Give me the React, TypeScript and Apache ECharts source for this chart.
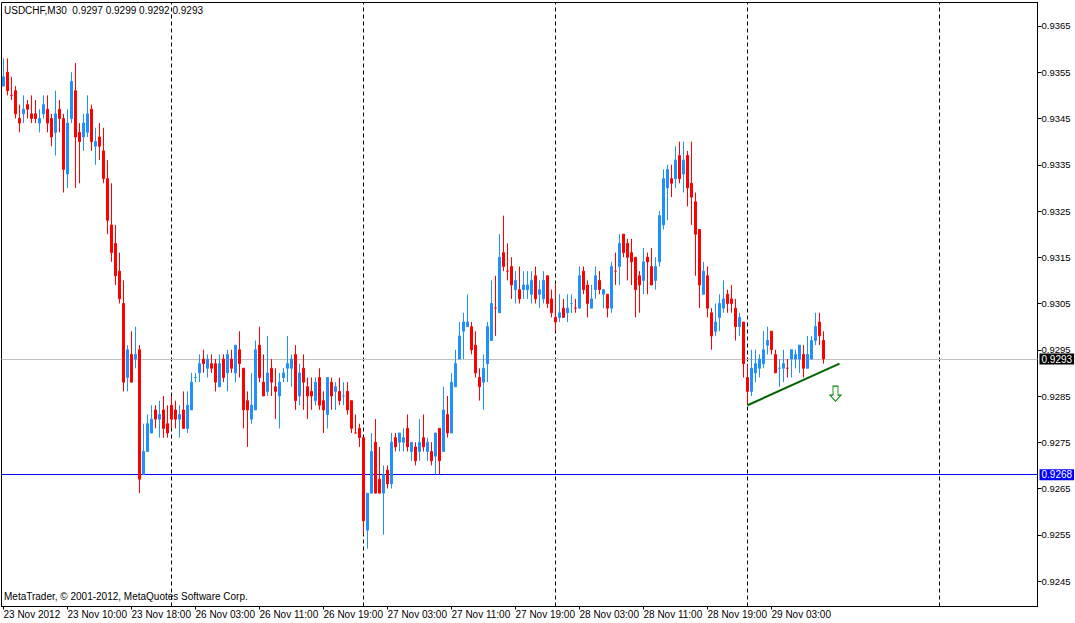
import React, { useEffect, useRef } from 'react';
import * as echarts from 'echarts';

const FONT = '"Liberation Sans", Arial, sans-serif';

const headerText = 'USDCHF,M30 \u00a00.9297 0.9299 0.9292 0.9293';
const copyrightText = 'MetaTrader, \u00a9 2001-2012, MetaQuotes Software Corp.';

// Bars as [open, high, low, close]
const nov23: number[][] = [
  [0.9352, 0.9358, 0.9352, 0.9354], [0.9355, 0.9358, 0.9350, 0.9351], [0.9350, 0.9354, 0.9349, 0.9350],
  [0.9351, 0.9352, 0.9345, 0.9346], [0.9345, 0.9348, 0.9342, 0.9344], [0.9346, 0.9350, 0.9344, 0.9347],
  [0.9348, 0.9349, 0.9345, 0.9347], [0.9346, 0.9350, 0.9344, 0.9345], [0.9346, 0.9349, 0.9344, 0.9345],
  [0.9344, 0.9347, 0.9342, 0.9345], [0.9346, 0.9350, 0.9345, 0.9348], [0.9347, 0.9350, 0.9342, 0.9344],
  [0.9345, 0.9346, 0.9339, 0.9341], [0.9342, 0.9351, 0.9337, 0.9346], [0.9347, 0.9349, 0.9342, 0.9345],
  [0.9345, 0.9346, 0.9329, 0.9334], [0.9333, 0.9347, 0.9330, 0.9344], [0.9345, 0.9355, 0.9344, 0.9353],
  [0.9351, 0.9357, 0.9330, 0.9341], [0.9342, 0.9344, 0.9331, 0.9340], [0.9341, 0.9346, 0.9338, 0.9344],
  [0.9342, 0.9350, 0.9341, 0.9346], [0.9347, 0.9348, 0.9338, 0.9340], [0.9339, 0.9343, 0.9335, 0.9340],
  [0.9341, 0.9344, 0.9336, 0.9339], [0.9338, 0.9343, 0.9331, 0.9332], [0.9332, 0.9336, 0.9320, 0.9323],
  [0.9322, 0.9331, 0.9314, 0.9316], [0.9318, 0.9322, 0.9309, 0.9311], [0.9312, 0.9316, 0.9305, 0.9306],
  [0.9305, 0.9310, 0.9286, 0.9288], [0.9289, 0.9296, 0.9286, 0.9295], [0.9294, 0.9299, 0.9288, 0.9288],
  [0.9293, 0.9300, 0.9291, 0.9294], [0.9295, 0.9296, 0.9264, 0.9267], [0.9268, 0.9279, 0.9268, 0.9273],
  [0.9273, 0.9281, 0.9273, 0.9279], [0.9277, 0.9283, 0.9277, 0.9280], [0.9282, 0.9283, 0.9278, 0.9280],
  [0.9280, 0.9284, 0.9276, 0.9281], [0.9282, 0.9285, 0.9276, 0.9278], [0.9279, 0.9283, 0.9276, 0.9277],
];

const nov26: number[][] = [
  [0.9283, 0.9285, 0.9278, 0.9280], [0.9282, 0.9284, 0.9278, 0.9280], [0.9280, 0.9283, 0.9276, 0.9281],
  [0.9282, 0.9286, 0.9278, 0.9278], [0.9278, 0.9286, 0.9277, 0.9283], [0.9282, 0.9290, 0.9282, 0.9288],
  [0.9289, 0.9290, 0.9288, 0.9289], [0.9290, 0.9294, 0.9288, 0.9292], [0.9293, 0.9295, 0.9290, 0.9292],
  [0.9291, 0.9294, 0.9289, 0.9293], [0.9292, 0.9294, 0.9290, 0.9291], [0.9292, 0.9293, 0.9286, 0.9288],
  [0.9287, 0.9294, 0.9287, 0.9292], [0.9293, 0.9294, 0.9288, 0.9289], [0.9290, 0.9295, 0.9286, 0.9294],
  [0.9293, 0.9295, 0.9290, 0.9291], [0.9290, 0.9296, 0.9288, 0.9296], [0.9295, 0.9299, 0.9289, 0.9292],
  [0.9291, 0.9291, 0.9278, 0.9282], [0.9284, 0.9286, 0.9274, 0.9282], [0.9280, 0.9290, 0.9279, 0.9283],
  [0.9282, 0.9297, 0.9282, 0.9295], [0.9296, 0.9300, 0.9288, 0.9289], [0.9288, 0.9294, 0.9285, 0.9285],
  [0.9286, 0.9298, 0.9285, 0.9290], [0.9291, 0.9293, 0.9285, 0.9288], [0.9287, 0.9291, 0.9280, 0.9286],
  [0.9285, 0.9290, 0.9278, 0.9288], [0.9289, 0.9291, 0.9288, 0.9290], [0.9291, 0.9298, 0.9288, 0.9292],
  [0.9291, 0.9294, 0.9287, 0.9293], [0.9294, 0.9296, 0.9282, 0.9284], [0.9285, 0.9292, 0.9283, 0.9290],
  [0.9291, 0.9294, 0.9282, 0.9288], [0.9287, 0.9289, 0.9280, 0.9285], [0.9286, 0.9289, 0.9282, 0.9285],
  [0.9284, 0.9289, 0.9283, 0.9288], [0.9289, 0.9291, 0.9282, 0.9283], [0.9284, 0.9286, 0.9277, 0.9282],
  [0.9281, 0.9289, 0.9278, 0.9289], [0.9288, 0.9289, 0.9282, 0.9285], [0.9286, 0.9288, 0.9282, 0.9287],
  [0.9286, 0.9289, 0.9283, 0.9284], [0.9285, 0.9288, 0.9283, 0.9285], [0.9286, 0.9288, 0.9281, 0.9282],
  [0.9284, 0.9284, 0.9277, 0.9278], [0.9277, 0.9281, 0.9277, 0.9277], [0.9278, 0.9279, 0.9274, 0.9276],
];

const nov27: number[][] = [
  [0.9276, 0.9276, 0.9255, 0.9258], [0.9256, 0.9264, 0.9252, 0.9264], [0.9264, 0.9277, 0.9264, 0.9273],
  [0.9275, 0.9280, 0.9264, 0.9264], [0.9267, 0.9274, 0.9264, 0.9264], [0.9264, 0.9270, 0.9255, 0.9268],
  [0.9269, 0.9270, 0.9265, 0.9266], [0.9266, 0.9277, 0.9265, 0.9275], [0.9276, 0.9277, 0.9273, 0.9274],
  [0.9275, 0.9277, 0.9273, 0.9277], [0.9275, 0.9278, 0.9273, 0.9276], [0.9278, 0.9281, 0.9273, 0.9274],
  [0.9273, 0.9275, 0.9271, 0.9275], [0.9274, 0.9275, 0.9270, 0.9271], [0.9273, 0.9280, 0.9271, 0.9275],
  [0.9276, 0.9281, 0.9273, 0.9274], [0.9273, 0.9276, 0.9271, 0.9275], [0.9273, 0.9275, 0.9270, 0.9271],
  [0.9272, 0.9277, 0.9268, 0.9277], [0.9278, 0.9278, 0.9268, 0.9271], [0.9273, 0.9287, 0.9273, 0.9282],
  [0.9281, 0.9285, 0.9276, 0.9277], [0.9277, 0.9290, 0.9277, 0.9288], [0.9287, 0.9295, 0.9287, 0.9292],
  [0.9293, 0.9301, 0.9293, 0.9298], [0.9299, 0.9303, 0.9293, 0.9301], [0.9300, 0.9307, 0.9300, 0.9301],
  [0.9300, 0.9301, 0.9294, 0.9295], [0.9296, 0.9299, 0.9289, 0.9290], [0.9289, 0.9291, 0.9284, 0.9287],
  [0.9288, 0.9294, 0.9282, 0.9291], [0.9292, 0.9301, 0.9288, 0.9300], [0.9297, 0.9310, 0.9297, 0.9305],
  [0.9304, 0.9311, 0.9298, 0.9304], [0.9303, 0.9320, 0.9303, 0.9315], [0.9316, 0.9324, 0.9312, 0.9313],
  [0.9312, 0.9318, 0.9310, 0.9312], [0.9313, 0.9315, 0.9306, 0.9309], [0.9308, 0.9312, 0.9305, 0.9310],
  [0.9308, 0.9313, 0.9305, 0.9306], [0.9308, 0.9312, 0.9306, 0.9309], [0.9308, 0.9312, 0.9306, 0.9309],
  [0.9307, 0.9312, 0.9305, 0.9310], [0.9311, 0.9313, 0.9305, 0.9306], [0.9307, 0.9310, 0.9304, 0.9308],
  [0.9306, 0.9312, 0.9305, 0.9310], [0.9311, 0.9311, 0.9304, 0.9305], [0.9306, 0.9308, 0.9302, 0.9303],
];

const nov28: number[][] = [
  [0.9302, 0.9309, 0.9299, 0.9301], [0.9302, 0.9307, 0.9301, 0.9303], [0.9304, 0.9306, 0.9302, 0.9302],
  [0.9303, 0.9307, 0.9301, 0.9304], [0.9305, 0.9307, 0.9303, 0.9305], [0.9304, 0.9306, 0.9303, 0.9304],
  [0.9304, 0.9313, 0.9304, 0.9311], [0.9312, 0.9313, 0.9307, 0.9308], [0.9309, 0.9310, 0.9302, 0.9305],
  [0.9304, 0.9309, 0.9304, 0.9306], [0.9308, 0.9313, 0.9306, 0.9311], [0.9310, 0.9312, 0.9307, 0.9308],
  [0.9307, 0.9308, 0.9304, 0.9308], [0.9307, 0.9307, 0.9302, 0.9304], [0.9304, 0.9314, 0.9303, 0.9313],
  [0.9312, 0.9316, 0.9309, 0.9312], [0.9313, 0.9320, 0.9309, 0.9318], [0.9320, 0.9320, 0.9315, 0.9316],
  [0.9318, 0.9319, 0.9310, 0.9315], [0.9316, 0.9319, 0.9309, 0.9314], [0.9315, 0.9315, 0.9302, 0.9308],
  [0.9311, 0.9312, 0.9303, 0.9309], [0.9310, 0.9317, 0.9307, 0.9314], [0.9315, 0.9316, 0.9307, 0.9314],
  [0.9313, 0.9317, 0.9309, 0.9309], [0.9310, 0.9315, 0.9308, 0.9313], [0.9314, 0.9325, 0.9313, 0.9324],
  [0.9322, 0.9334, 0.9321, 0.9332], [0.9330, 0.9335, 0.9323, 0.9334], [0.9332, 0.9335, 0.9328, 0.9331],
  [0.9332, 0.9339, 0.9330, 0.9336], [0.9337, 0.9340, 0.9331, 0.9332], [0.9333, 0.9340, 0.9329, 0.9336],
  [0.9337, 0.9338, 0.9326, 0.9330], [0.9331, 0.9340, 0.9322, 0.9328], [0.9327, 0.9329, 0.9311, 0.9320],
  [0.9321, 0.9321, 0.9304, 0.9309], [0.9307, 0.9314, 0.9307, 0.9312], [0.9311, 0.9313, 0.9302, 0.9304],
  [0.9303, 0.9304, 0.9295, 0.9298], [0.9299, 0.9305, 0.9298, 0.9301], [0.9302, 0.9307, 0.9299, 0.9305],
  [0.9304, 0.9310, 0.9303, 0.9306], [0.9307, 0.9308, 0.9303, 0.9305], [0.9306, 0.9309, 0.9303, 0.9305],
  [0.9304, 0.9306, 0.9297, 0.9300], [0.9300, 0.9303, 0.9298, 0.9302], [0.9301, 0.9301, 0.9289, 0.9292],
];

const nov29: number[][] = [
  [0.9289, 0.9292, 0.9283, 0.9286], [0.9286, 0.9295, 0.9285, 0.9291], [0.9290, 0.9295, 0.9288, 0.9292],
  [0.9291, 0.9294, 0.9289, 0.9293], [0.9292, 0.9299, 0.9291, 0.9295], [0.9296, 0.9300, 0.9294, 0.9297],
  [0.9299, 0.9299, 0.9294, 0.9295], [0.9294, 0.9295, 0.9290, 0.9290], [0.9291, 0.9293, 0.9287, 0.9291],
  [0.9291, 0.9295, 0.9288, 0.9292], [0.9291, 0.9293, 0.9289, 0.9291], [0.9293, 0.9295, 0.9289, 0.9295],
  [0.9293, 0.9295, 0.9291, 0.9294], [0.9293, 0.9296, 0.9290, 0.9296], [0.9294, 0.9296, 0.9289, 0.9291],
  [0.9291, 0.9298, 0.9291, 0.9294], [0.9293, 0.9298, 0.9293, 0.9297], [0.9297, 0.9303, 0.9296, 0.9300],
  [0.9301, 0.9303, 0.9296, 0.9298], [0.9297, 0.9299, 0.9292, 0.9293],
];

// Sessions: [day label, first half-hour slot, number of slots]
const sessions: [string, number, number][] = [
  ['23 Nov', 4, 42], ['26 Nov', 0, 48], ['27 Nov', 0, 48], ['28 Nov', 0, 48], ['29 Nov', 0, 48], ['30 Nov', 0, 48],
];
const totalSlots = 259;

const xTickLabels = [
  '23 Nov 2012', '23 Nov 10:00', '23 Nov 18:00', '26 Nov 03:00', '26 Nov 11:00', '26 Nov 19:00',
  '27 Nov 03:00', '27 Nov 11:00', '27 Nov 19:00', '28 Nov 03:00', '28 Nov 11:00', '28 Nov 19:00', '29 Nov 03:00',
];
const xTickStep = 16;

const yTickLabels = [
  '0.9245', '0.9255', '0.9265', '0.9275', '0.9285', '0.9295', '0.9305',
  '0.9315', '0.9325', '0.9335', '0.9345', '0.9355', '0.9365',
];

const bidPrice = 0.9293;
const levelPrice = 0.9268;
const daySeparatorIdx = [42, 90, 138, 186, 234];
const trendLine = [
  { idx: 186, price: 0.9283 },
  { idx: 209, price: 0.9292 },
];
const arrowPoint = { idx: 208, price: 0.92855 };

const yMin = 0.923949;
const yMax = 0.937008;

function buildCategories(): string[] {
  const out: string[] = [];
  for (const [day, start, count] of sessions) {
    for (let k = 0; k < count; k++) {
      const slot = start + k;
      const hh = String(Math.floor(slot / 2)).padStart(2, '0');
      const mm = slot % 2 === 0 ? '00' : '30';
      out.push(`${day} ${hh}:${mm}`);
    }
  }
  return out.slice(0, totalSlots);
}

export default function App() {
  const ref = useRef<HTMLDivElement>(null);

  useEffect(() => {
    document.body.style.margin = '0';
    const el = ref.current;
    if (!el) return;
    const chart = echarts.init(el, null, { renderer: 'svg' });

    const categories = buildCategories();
    const bars = [...nov23, ...nov26, ...nov27, ...nov28, ...nov29];
    // ECharts order: [open, close, low, high]
    const candleData = bars.map(([o, h, l, c]) => [o, c, l, h]);
    const yTicks = yTickLabels.map((s) => parseFloat(s));
    const tickInterval = (index: number) =>
      index % xTickStep === 0 && index / xTickStep < xTickLabels.length;

    const boxLabel = (text: string, bg: string) => ({
      show: true,
      position: 'end',
      formatter: text,
      color: '#ffffff',
      backgroundColor: bg,
      padding: [1, 2, 0, 2],
      fontSize: 10,
      fontFamily: FONT,
      distance: 2,
    });

    const option: any = {
      animation: false,
      backgroundColor: '#ffffff',
      textStyle: { fontFamily: FONT },
      title: [
        {
          text: headerText,
          left: 4,
          top: 5,
          padding: 0,
          textStyle: { fontSize: 10, fontWeight: 'normal', color: '#000', fontFamily: FONT },
        },
        {
          text: copyrightText,
          left: 4,
          top: 591,
          padding: 0,
          textStyle: { fontSize: 10, fontWeight: 'normal', color: '#000', fontFamily: FONT },
        },
      ],
      grid: {
        left: 1.5,
        top: 2.5,
        width: 1036,
        height: 604,
        show: true,
        borderColor: '#000',
        borderWidth: 1,
        backgroundColor: '#fff',
        containLabel: false,
      },
      xAxis: {
        type: 'category',
        data: categories,
        boundaryGap: true,
        axisLine: { show: true, lineStyle: { color: '#000', width: 1 } },
        axisTick: {
          show: true,
          alignWithLabel: true,
          interval: tickInterval,
          length: 3,
          lineStyle: { color: '#000' },
        },
        axisLabel: {
          interval: tickInterval,
          formatter: (_v: string, i: number) => xTickLabels[i / xTickStep] ?? '',
          align: 'left',
          margin: 3,
          color: '#000',
          fontSize: 10,
          fontFamily: FONT,
        },
        splitLine: { show: false },
      },
      yAxis: {
        type: 'value',
        position: 'right',
        min: yMin,
        max: yMax,
        axisLine: { show: true, lineStyle: { color: '#000', width: 1 } },
        axisTick: { show: true, length: 4, customValues: yTicks, lineStyle: { color: '#000' } },
        axisLabel: {
          customValues: yTicks,
          formatter: (v: number) => v.toFixed(4),
          color: '#000',
          fontSize: 9.5,
          fontFamily: FONT,
          margin: 4,
        },
        splitLine: { show: false },
      },
      series: [
        {
          type: 'candlestick',
          data: candleData,
          barWidth: 2,
          silent: true,
          z: 3,
          itemStyle: {
            color: '#1E90FF',
            color0: '#FF0000',
            borderColor: '#1E90FF',
            borderColor0: '#FF0000',
            borderWidth: 1,
          },
        },
        {
          type: 'line',
          silent: true,
          symbol: 'none',
          z: 4,
          data: trendLine.map((p) => [categories[p.idx], p.price]),
          lineStyle: { color: '#006400', width: 2 },
          markLine: {
            silent: true,
            symbol: ['none', 'none'],
            animation: false,
            precision: 4,
            z: 1,
            data: [
              ...daySeparatorIdx.map((idx) => ({
                xAxis: categories[idx],
                lineStyle: { color: '#000', type: [4, 3], width: 1 },
                label: { show: false },
              })),
              {
                yAxis: bidPrice,
                lineStyle: { color: '#C0C0C0', type: 'solid', width: 1 },
                label: boxLabel(bidPrice.toFixed(4), '#000000'),
              },
              {
                yAxis: levelPrice,
                lineStyle: { color: '#0000FF', type: 'solid', width: 1 },
                label: boxLabel(levelPrice.toFixed(4), '#0000FF'),
              },
            ],
          },
          markPoint: {
            silent: true,
            animation: false,
            label: { show: false },
            data: [
              {
                coord: [categories[arrowPoint.idx], arrowPoint.price],
                symbol: 'path://M3,0 L8,0 L8,9 L11,9 L5.5,15 L0,9 L3,9 Z',
                symbolSize: [11, 15],
                itemStyle: { color: '#ffffff', borderColor: '#008000', borderWidth: 1 },
              },
            ],
          },
        },
      ],
    };

    chart.setOption(option);
    return () => chart.dispose();
  }, []);

  return (
    <div
      ref={ref}
      style={{ position: 'fixed', left: 0, top: 0, width: 1075, height: 623, background: '#fff' }}
    />
  );
}
